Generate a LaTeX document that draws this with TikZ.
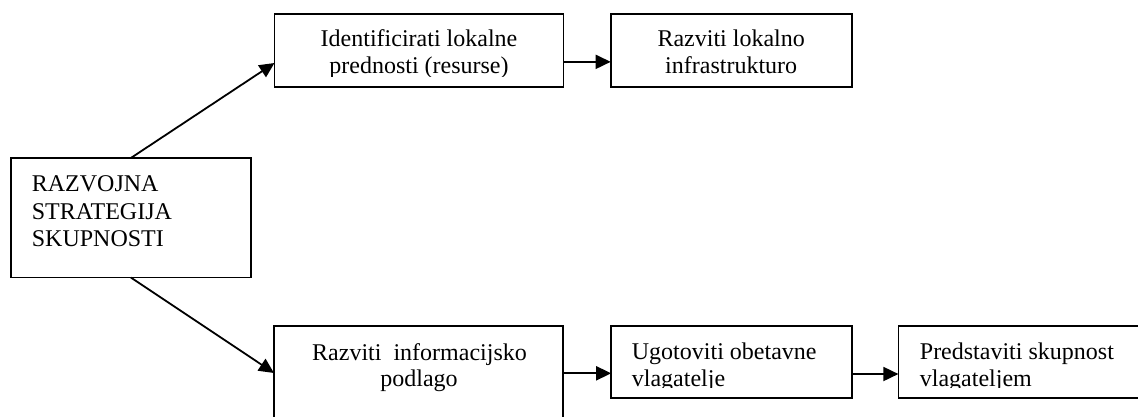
\documentclass[tikz,border=0pt]{standalone}
\usepackage{fontspec}
\setmainfont{Liberation Serif}
\usetikzlibrary{arrows.meta}
\begin{document}
\begin{tikzpicture}[x=1pt,y=-1pt,
  box/.style={draw, line width=1.8pt, inner sep=0pt, outer sep=0pt, anchor=north west},
  txt/.style={inner sep=0pt, font=\fontsize{24}{27}\selectfont},
  arr/.style={line width=1.8pt, -{Triangle[length=15pt,width=14pt]}}]
\useasboundingbox (0,0) rectangle (1138,416);
\clip (0,0) rectangle (1138,416);
% boxes
\node[box, minimum width=240.3pt, minimum height=119.5pt] (L) at (10.7,158) {};
\node[box, minimum width=289pt, minimum height=72.7pt] (T1) at (274.5,14) {};
\node[box, minimum width=241pt, minimum height=72.7pt] (T2) at (610.7,14) {};
\node[box, minimum width=289.3pt, minimum height=120pt] (B1) at (274,326) {};
\node[box, minimum width=240.5pt, minimum height=72.3pt] (B2) at (611.2,326) {};
\node[box, minimum width=280pt, minimum height=72.3pt] (B3) at (898.4,326) {};
% left box text
\node[txt, anchor=base west] (L1) at (31.7,191.7) {RAZVOJNA};
\node[txt, anchor=base west] (L2) at (31.7,219.1) {STRATEGIJA};
\node[txt, anchor=base west] (L3) at (31.7,246.3) {SKUPNOSTI};
% top texts (clipped like text boxes)
\begin{scope}
  \clip (T1.north west) rectangle ([yshift=10.7pt]T1.south east);
  \node[txt, anchor=base] (T1a) at (419,46.7) {Identificirati lokalne};
  \node[txt, anchor=base] (T1b) at (419,73.7) {prednosti (resurse)};
\end{scope}
\begin{scope}
  \clip (T2.north west) rectangle ([yshift=10.7pt]T2.south east);
  \node[txt, anchor=base] (T2a) at (731.2,46.7) {Razviti lokalno};
  \node[txt, anchor=base] (T2b) at (731.2,73.7) {infrastrukturo};
\end{scope}
% bottom texts
\node[txt, anchor=base] (B1a) at (419.5,360) {Razviti\ \ informacijsko};
\node[txt, anchor=base] (B1b) at (419,386.7) {podlago};
\begin{scope}
  \clip (B2.north west) rectangle ([yshift=11.3pt]B2.south east);
  \node[txt, anchor=base west] (B2a) at (631.7,359.5) {Ugotoviti obetavne};
  \node[txt, anchor=base west] (B2b) at (631.7,386) {vlagatelje};
\end{scope}
\begin{scope}
  \clip (B3.north west) rectangle ([yshift=11.3pt]B3.south east);
  \node[txt, anchor=base west] (B3a) at (919.7,359.5) {Predstaviti skupnost};
  \node[txt, anchor=base west] (B3b) at (919.7,386) {vlagateljem};
\end{scope}
% connectors
\draw[arr] (L.north) -- ([yshift=-12.65pt]T1.west);
\draw[arr] (L.south) -- ([yshift=-47pt]B1.north west);
\draw[arr] ([yshift=-11.5pt]T1.east) -- ([yshift=-11.5pt]T2.west);
\draw[arr] ([yshift=-47.3pt]B1.north east) -- ([yshift=-47.3pt]B2.north west);
\draw[arr] ([yshift=-48pt]B2.north east) -- ([yshift=-48pt]B3.north west);
\end{tikzpicture}
\end{document}
